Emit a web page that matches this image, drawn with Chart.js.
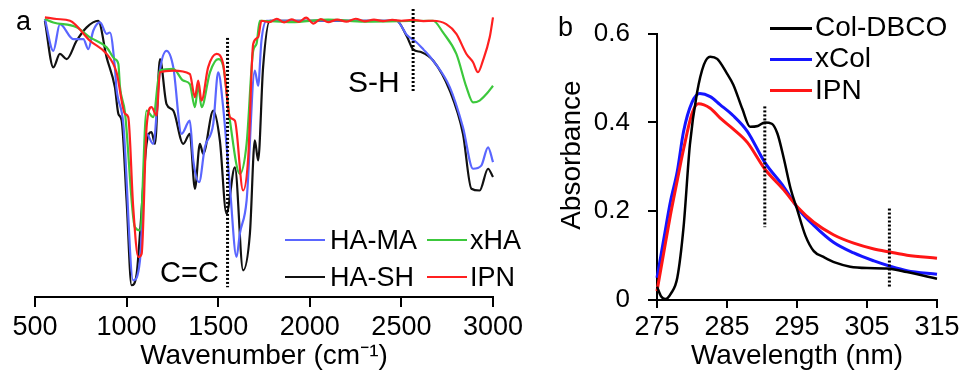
<!DOCTYPE html>
<html>
<head>
<meta charset="utf-8">
<title>FTIR and UV spectra</title>
<script src="https://cdn.jsdelivr.net/npm/chart.js@4"></script>
<style>
  body { margin: 0; background: #fff; }
  #fig { position: relative; width: 965px; height: 389px; overflow: hidden;
         font-family: "Liberation Sans", Arial, sans-serif; color: #000; }
  canvas { position: absolute; top: 0; }
  #ftir { left: 0; }
  #uv { left: 540px; }
  .lbl { position: absolute; line-height: 1; white-space: nowrap; }
  .key { position: absolute; }
</style>
</head>
<body>
<div id="fig">
  <canvas id="ftir" width="545" height="389"></canvas>
  <canvas id="uv" width="425" height="389"></canvas>

  <div class="lbl" style="left:16px; top:8px; font-size:27px;">a</div>
  <div class="lbl" style="left:558px; top:14px; font-size:27px;">b</div>
  <div class="lbl" style="left:160px; top:258px; font-size:29px;">C=C</div>
  <div class="lbl" style="left:348px; top:67px; font-size:30px;">S-H</div>

  <!-- legend a -->
  <div class="key" style="left:285px; top:239px; width:40px; height:2px; background:#5a66ff;"></div>
  <div class="lbl" style="left:330px; top:227px; font-size:27px;">HA-MA</div>
  <div class="key" style="left:427px; top:239px; width:40px; height:2px; background:#3cc83c;"></div>
  <div class="lbl" style="left:470px; top:227px; font-size:27px;">xHA</div>
  <div class="key" style="left:285px; top:276px; width:40px; height:2px; background:#111;"></div>
  <div class="lbl" style="left:330px; top:264px; font-size:27px;">HA-SH</div>
  <div class="key" style="left:427px; top:276px; width:40px; height:2px; background:#ff2020;"></div>
  <div class="lbl" style="left:470px; top:264px; font-size:27px;">IPN</div>

  <!-- legend b -->
  <div class="key" style="left:770px; top:27px; width:42px; height:3px; background:#000;"></div>
  <div class="lbl" style="left:815px; top:13px; font-size:28px;">Col-DBCO</div>
  <div class="key" style="left:770px; top:58px; width:42px; height:3px; background:#1515ff;"></div>
  <div class="lbl" style="left:815px; top:44px; font-size:28px;">xCol</div>
  <div class="key" style="left:770px; top:89px; width:42px; height:3px; background:#ff1515;"></div>
  <div class="lbl" style="left:815px; top:76px; font-size:28px;">IPN</div>
</div>

<script>
// ---- panel a: FTIR (wavenumber, cm-1 ; transmittance, a.u.) ----
var ftirTicks = [500, 1000, 1500, 2000, 2500, 3000];

var haShWn = [554, 600, 636, 673, 727, 782, 845, 891, 936, 955, 973, 1000, 1027, 1055, 1073, 1109, 1136, 1155, 1182, 1218, 1255, 1309, 1345, 1373, 1400, 1418, 1473, 1509, 1545, 1591, 1636, 1673, 1700, 1718, 1745, 1782, 2473, 2530, 2564, 2610, 2673, 2764, 2836, 2882, 2927, 2973, 3000];
var haShT  = [96.5, 80.2, 84.9, 83.1, 89.5, 94.2, 96.5, 83.7, 73.3, 64.0, 61.6, 33.7, 4.1, 8.1, 22.1, 53.5, 57.6, 53.5, 83.1, 67.4, 65.1, 53.5, 57.0, 37.8, 53.5, 50.0, 65.1, 54.7, 29.1, 45.3, 9.3, 22.1, 54.7, 47.7, 80.2, 96.5, 96.5, 91.0, 86.5, 85.5, 82.6, 72.1, 57.0, 37.8, 37.2, 44.8, 41.9];

var haMaWn = [554, 600, 636, 709, 764, 791, 818, 855, 891, 909, 936, 945, 982, 1036, 1073, 1109, 1145, 1182, 1218, 1255, 1300, 1345, 1364, 1396, 1427, 1473, 1500, 1527, 1564, 1600, 1618, 1655, 1700, 1718, 1736, 1764, 2473, 2530, 2582, 2620, 2673, 2764, 2836, 2891, 2936, 2973, 3000];
var haMaT  = [97.1, 86.0, 95.3, 90.1, 90.1, 86.6, 93.0, 95.9, 91.9, 92.4, 80.2, 72.7, 60.5, 5.8, 12.8, 57.0, 53.5, 79.1, 86.0, 80.2, 57.0, 61.6, 47.7, 40.1, 52.3, 60.5, 78.5, 66.3, 38.4, 14.0, 22.1, 33.7, 79.1, 73.8, 89.5, 96.5, 96.5, 91.5, 89.0, 86.5, 82.6, 73.3, 59.3, 44.8, 45.9, 52.3, 47.1];

var xHaWn = [554, 600, 727, 800, 891, 936, 955, 964, 991, 1045, 1073, 1109, 1145, 1182, 1255, 1309, 1345, 1373, 1391, 1409, 1455, 1500, 1527, 1564, 1618, 1655, 1691, 1709, 1727, 1900, 2100, 2300, 2673, 2727, 2800, 2855, 2891, 2927, 2964, 3000];
var xHaT  = [97.1, 95.9, 94.2, 90.7, 87.2, 83.1, 81.4, 73.3, 64.5, 24.4, 23.3, 65.1, 62.8, 79.1, 79.7, 75.6, 74.4, 66.3, 73.8, 66.3, 78.5, 83.1, 80.8, 61.6, 43.0, 53.5, 86.0, 88.4, 96.5, 96.0, 96.9, 96.2, 96.5, 92.4, 84.9, 73.3, 68.0, 68.6, 70.9, 73.8];

var ipnWn = [554, 618, 691, 800, 891, 945, 991, 1009, 1036, 1064, 1082, 1109, 1136, 1164, 1182, 1255, 1345, 1373, 1391, 1409, 1445, 1491, 1527, 1564, 1591, 1636, 1664, 1691, 1718, 1736, 1780, 1820, 1860, 1900, 1940, 1980, 2020, 2060, 2100, 2150, 2200, 2250, 2300, 2350, 2400, 2450, 2500, 2560, 2620, 2673, 2745, 2800, 2855, 2891, 2918, 2945, 2982, 3000];
var ipnT  = [97.7, 97.1, 96.5, 89.5, 84.9, 78.5, 64.0, 62.8, 31.4, 14.0, 15.1, 59.3, 66.3, 63.4, 78.5, 79.1, 77.9, 69.8, 75.6, 68.6, 80.2, 84.9, 81.4, 62.8, 61.6, 37.2, 48.8, 88.4, 90.7, 96.5, 96.0, 97.2, 95.9, 97.0, 96.1, 97.6, 95.5, 97.1, 96.0, 96.9, 96.2, 97.2, 96.3, 96.9, 96.4, 96.8, 96.5, 96.8, 96.4, 96.5, 95.3, 91.9, 84.9, 82.0, 78.5, 82.6, 90.7, 97.7];

// dotted marker lines [x, yTop, yBottom]
var ccMark = [1551, 90.5, 3.4];
var shMark = [2564, 100.6, 71.9];

// ---- panel b: UV (wavelength, nm ; absorbance) ----
var uvTicksX = [275, 285, 295, 305, 315];
var uvTicksY = [0, 0.2, 0.4, 0.6];

var dbcoWl = [275, 275.6, 276.2, 277, 277.9, 278.8, 279.7, 280.7, 281.7, 282.6, 283.6, 285, 285.9, 287.2, 288.3, 289.4, 290.4, 291.4, 292.2, 293.1, 294.1, 295.0, 296.2, 297.4, 298.8, 300.5, 302.6, 305, 307.8, 310.7, 315];
var dbcoA  = [0.03, 0.008, 0.002, 0.015, 0.05, 0.165, 0.35, 0.465, 0.53, 0.548, 0.543, 0.51, 0.485, 0.43, 0.39, 0.392, 0.40, 0.397, 0.375, 0.32, 0.25, 0.205, 0.145, 0.11, 0.097, 0.084, 0.075, 0.072, 0.071, 0.063, 0.048];

var xColWl = [275, 276, 276.9, 277.9, 278.8, 280, 281.1, 282.6, 284, 285.9, 287.9, 290.4, 293.1, 295.2, 297.4, 300.2, 303.1, 306, 308.3, 310.7, 315];
var xColA  = [0.05, 0.14, 0.22, 0.29, 0.38, 0.445, 0.465, 0.458, 0.44, 0.415, 0.38, 0.31, 0.255, 0.205, 0.168, 0.13, 0.106, 0.088, 0.076, 0.066, 0.058];

var ipnUvWl = [275, 276, 276.9, 277.9, 278.8, 280, 280.9, 282.6, 284, 285.9, 287.9, 290.4, 293.1, 295.2, 297.4, 300.2, 303.1, 306, 308.3, 310.7, 315];
var ipnUvA  = [0.02, 0.11, 0.19, 0.27, 0.34, 0.42, 0.442, 0.432, 0.41, 0.385, 0.355, 0.295, 0.248, 0.207, 0.175, 0.147, 0.128, 0.115, 0.108, 0.101, 0.094];

var uvMark1 = [290.4, 0.436, 0.164];
var uvMark2 = [308.2, 0.206, 0.027];

Chart.defaults.font.family = '"Liberation Sans", Arial, sans-serif';
Chart.defaults.color = '#000';

function pts(xs, ys) {
  return xs.map(function (x, i) { return { x: x, y: ys[i] }; });
}

function curve(xs, ys, color, width) {
  return {
    data: pts(xs, ys),
    borderColor: color,
    borderWidth: width,
    pointRadius: 0,
    cubicInterpolationMode: 'monotone',
    fill: false,
    clip: false
  };
}

function dotted(m) {
  return {
    data: [{ x: m[0], y: m[1] }, { x: m[0], y: m[2] }],
    borderColor: '#000',
    borderWidth: 3,
    borderDash: [2, 2],
    pointRadius: 0,
    clip: false
  };
}

function fixedTicks(list) {
  return function (scale) {
    scale.ticks = list.map(function (v) { return { value: v }; });
  };
}

function plain(v) { return String(v); }

new Chart(document.getElementById('ftir'), {
  type: 'line',
  data: {
    datasets: [
      dotted(ccMark),
      dotted(shMark),
      curve(ipnWn, ipnT, '#ff2020', 2.2),
      curve(xHaWn, xHaT, '#3cc83c', 2.2),
      curve(haMaWn, haMaT, '#5a66ff', 2.2),
      curve(haShWn, haShT, '#111111', 2.2)
    ]
  },
  options: {
    responsive: false,
    animation: false,
    devicePixelRatio: 1,
    layout: { autoPadding: false, padding: { left: 35, right: 52, top: 5, bottom: 0 } },
    plugins: { legend: { display: false }, tooltip: { enabled: false } },
    scales: {
      x: {
        type: 'linear',
        min: 500,
        max: 3000,
        afterBuildTicks: fixedTicks(ftirTicks),
        afterFit: function (scale) { scale.height = 92; },
        grid: { drawOnChartArea: false, drawTicks: true, tickLength: 10, color: '#000', lineWidth: 2 },
        border: { display: true, color: '#000', width: 2 },
        ticks: { font: { size: 27 }, padding: 4, maxRotation: 0, autoSkip: false, callback: plain },
        title: { display: true, text: 'Wavenumber (cm\u207B\u00B9)', font: { size: 28 }, padding: { top: 0, bottom: 16 } }
      },
      y: { display: false, min: 0, max: 102 }
    }
  }
});

new Chart(document.getElementById('uv'), {
  type: 'line',
  data: {
    datasets: [
      dotted(uvMark1),
      dotted(uvMark2),
      curve(dbcoWl, dbcoA, '#000000', 2.5),
      curve(ipnUvWl, ipnUvA, '#ff1515', 3),
      curve(xColWl, xColA, '#1515ff', 3)
    ]
  },
  options: {
    responsive: false,
    animation: false,
    devicePixelRatio: 1,
    layout: { autoPadding: false, padding: { left: 0, right: 28, top: 32, bottom: 0 } },
    plugins: { legend: { display: false }, tooltip: { enabled: false } },
    scales: {
      x: {
        type: 'linear',
        min: 275,
        max: 315,
        afterBuildTicks: fixedTicks(uvTicksX),
        afterFit: function (scale) { scale.height = 89; },
        grid: { drawOnChartArea: false, drawTicks: true, tickLength: 8, color: '#000', lineWidth: 2 },
        border: { display: true, color: '#000', width: 2 },
        ticks: { font: { size: 27 }, padding: 3, maxRotation: 0, autoSkip: false, callback: plain },
        title: { display: true, text: 'Wavelength (nm)', font: { size: 28 }, padding: { top: 0, bottom: 16 } }
      },
      y: {
        min: 0,
        max: 0.6,
        afterBuildTicks: fixedTicks(uvTicksY),
        afterFit: function (scale) { scale.width = 117; },
        grid: { drawOnChartArea: false, drawTicks: true, tickLength: 9, color: '#000', lineWidth: 2 },
        border: { display: true, color: '#000', width: 2 },
        ticks: { font: { size: 26 }, padding: 18, callback: plain },
        title: { display: true, text: '\u00A0\u00A0\u00A0Absorbance', font: { size: 28 }, padding: { top: 15, bottom: 0 } }
      }
    }
  }
});
</script>
</body>
</html>
